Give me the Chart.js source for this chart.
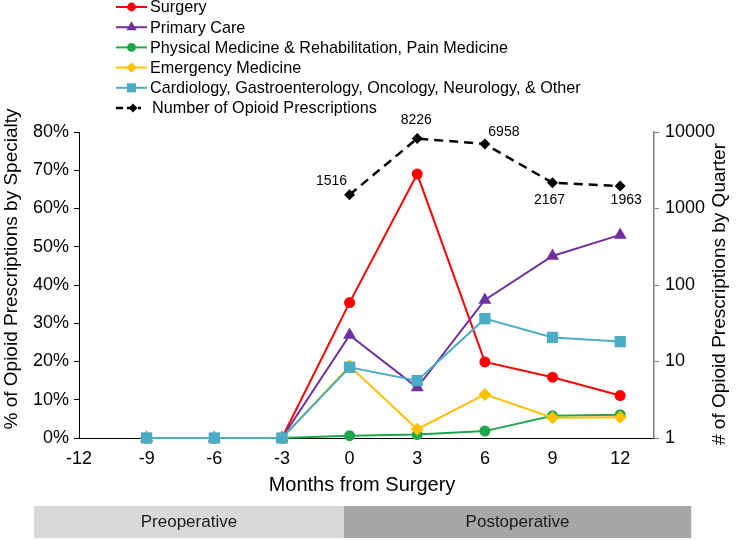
<!DOCTYPE html>
<html><head><meta charset="utf-8">
<script src="https://cdn.jsdelivr.net/npm/chart.js@4/dist/chart.umd.min.js"></script>
<style>html,body{margin:0;padding:0;background:#fff}#wrap{width:742px;height:540px}</style>
</head><body><div id="wrap"><canvas id="c" width="742" height="540"></canvas></div>
<script>
// ---- data ----
const months = [-9, -6, -3, 0, 3, 6, 9, 12];
const surgery = [0, 0, 0, 35.4, 69.0, 19.9, 15.9, 11.1];
const primaryCare = [0, 0, 0, 26.9, 13.2, 36.1, 47.6, 53.1];
const pmrPain = [0, 0, 0, 0.6, 0.9, 1.8, 5.8, 6.1];
const emergency = [0, 0, 0, 18.8, 2.3, 11.4, 5.3, 5.4];
const otherSpecialties = [0, 0, 0, 18.5, 15.0, 31.2, 26.3, 25.2];
const rxMonths = [0, 3, 6, 9, 12];
const rxCounts = [1516, 8226, 6958, 2167, 1963];
const xTickValues = [-12, -9, -6, -3, 0, 3, 6, 9, 12];
const pctTickValues = [0, 10, 20, 30, 40, 50, 60, 70, 80];
const countTickValues = [1, 10, 100, 1000, 10000];
const seriesNames = [
  'Surgery',
  'Primary Care',
  'Physical Medicine & Rehabilitation, Pain Medicine',
  'Emergency Medicine',
  'Cardiology, Gastroenterology, Oncology, Neurology, & Other',
  'Number of Opioid Prescriptions'
];
const phaseLabels = ['Preoperative', 'Postoperative'];
const phaseBounds = [-14, -0.25, 15.15];
const rxLabelPlacement = ['upper-left', 'above', 'upper-right', 'below', 'below-right'];

// ---- styles ----
const FONT = '"Liberation Sans", Arial, sans-serif';
const placementOffsets = {
  'upper-left': [-18, -14], 'above': [-1, -18], 'upper-right': [19, -12],
  'below': [-3, 17], 'below-right': [6, 14]
};
const styles = [
  {color: '#ff0000', point: 'circle', r: 5.5},
  {color: '#7030a0', point: 'triangle', r: 7.5},
  {color: '#1fa64a', point: 'circle', r: 5.5},
  {color: '#ffc000', point: 'rectRot', r: 6.5},
  {color: '#4bacc6', point: 'rect', r: 8},
  {color: '#000000', point: 'rectRot', r: 5.5}
];
const pctSeries = [surgery, primaryCare, pmrPain, emergency, otherSpecialties];

const datasets = pctSeries.map((vals, i) => ({
  label: seriesNames[i],
  data: vals.map((v, j) => ({x: months[j], y: v})),
  yAxisID: 'y',
  borderColor: styles[i].color,
  backgroundColor: styles[i].color,
  borderWidth: 2,
  pointStyle: styles[i].point,
  pointRadius: styles[i].r,
  pointHoverRadius: styles[i].r,
  pointBorderWidth: 0,
  tension: 0,
  clip: false,
  order: 5 - i
}));
datasets.push({
  label: seriesNames[5],
  data: rxCounts.map((v, j) => ({x: rxMonths[j], y: v})),
  yAxisID: 'y2',
  borderColor: '#000',
  backgroundColor: '#000',
  borderWidth: 2.5,
  borderDash: [9, 6],
  pointStyle: 'rectRot',
  pointRadius: styles[5].r,
  pointHoverRadius: styles[5].r,
  pointBorderWidth: 0,
  tension: 0,
  clip: false,
  order: 0
});

function drawMarker(ctx, style, r, x, y, color) {
  ctx.save();
  ctx.fillStyle = color;
  ctx.setLineDash([]);
  ctx.beginPath();
  if (style === 'circle') ctx.arc(x, y, r, 0, Math.PI * 2);
  else if (style === 'triangle') {
    ctx.moveTo(x, y - r); ctx.lineTo(x + r * 0.866, y + r * 0.5); ctx.lineTo(x - r * 0.866, y + r * 0.5); ctx.closePath();
  } else if (style === 'rect') {
    const s = r * Math.SQRT1_2; ctx.rect(x - s, y - s, 2 * s, 2 * s);
  } else if (style === 'rectRot') {
    ctx.moveTo(x, y - r); ctx.lineTo(x + r, y); ctx.lineTo(x, y + r); ctx.lineTo(x - r, y); ctx.closePath();
  }
  ctx.fill();
  ctx.restore();
}

const extras = {
  id: 'extras',
  afterDraw(chart) {
    const ctx = chart.ctx;
    const ca = chart.chartArea;
    const xs = chart.scales.x;
    // legend
    ctx.save();
    ctx.font = '16.2px ' + FONT;
    ctx.textBaseline = 'middle';
    ctx.textAlign = 'left';
    chart.data.datasets.forEach((ds, i) => {
      const y = 7 + i * 20.2;
      ctx.save();
      ctx.strokeStyle = ds.borderColor;
      ctx.lineWidth = i === 5 ? 2.5 : 2;
      ctx.setLineDash(i === 5 ? [7, 4] : []);
      ctx.beginPath();
      ctx.moveTo(116, y); ctx.lineTo(i === 5 ? 141 : 147, y);
      ctx.stroke();
      ctx.restore();
      drawMarker(ctx, styles[i].point, styles[i].r * 0.8, i === 5 ? 133 : 131.5, y, ds.borderColor);
      ctx.fillStyle = '#000';
      ctx.fillText(ds.label, i === 5 ? 152 : 150, y + 1);
    });
    ctx.restore();

    // data labels for prescription counts
    const meta = chart.getDatasetMeta(5);
    ctx.save();
    ctx.font = '14px ' + FONT;
    ctx.fillStyle = '#000';
    ctx.textAlign = 'center';
    ctx.textBaseline = 'middle';
    meta.data.forEach((pt, i) => {
      const off = placementOffsets[rxLabelPlacement[i]];
      ctx.fillText(String(rxCounts[i]), pt.x + off[0], pt.y + off[1]);
    });
    ctx.restore();

    // axis titles
    ctx.save();
    ctx.fillStyle = '#000';
    ctx.textAlign = 'center';
    ctx.textBaseline = 'middle';
    ctx.font = '19px ' + FONT;
    ctx.save(); ctx.translate(12, 269); ctx.rotate(-Math.PI / 2);
    ctx.fillText('% of Opioid Prescriptions by Specialty', 0, 0); ctx.restore();
    ctx.save(); ctx.translate(720, 294); ctx.rotate(-Math.PI / 2);
    ctx.fillText('# of Opioid Prescriptions by Quarter', 0, 0); ctx.restore();
    ctx.font = '20px ' + FONT;
    ctx.fillText('Months from Surgery', 362, ca.bottom + 47);
    ctx.restore();

    // phase bars
    const phaseColors = ['#d9d9d9', '#a6a6a6'];
    const top = ca.bottom + 68, h = 32;
    ctx.save();
    ctx.font = '17px ' + FONT;
    ctx.textAlign = 'center';
    ctx.textBaseline = 'middle';
    phaseLabels.forEach((lab, i) => {
      const x0 = xs.getPixelForValue(phaseBounds[i]);
      const x1 = xs.getPixelForValue(phaseBounds[i + 1]);
      ctx.fillStyle = phaseColors[i];
      ctx.fillRect(x0, top, x1 - x0, h);
      ctx.fillStyle = '#1a1a1a';
      ctx.fillText(lab, (x0 + x1) / 2, top + h / 2);
    });
    ctx.restore();
  }
};

new Chart(document.getElementById('c'), {
  type: 'line',
  data: {datasets},
  options: {
    responsive: false,
    animation: false,
    devicePixelRatio: 1,
    layout: {padding: {top: 132, left: 0, right: 0, bottom: 0}},
    plugins: {legend: {display: false}, tooltip: {enabled: false}},
    scales: {
      x: {
        type: 'linear', min: -12, max: 13.5,
        afterBuildTicks: s => { s.ticks = xTickValues.map(v => ({value: v})); },
        afterFit: s => { s.height = 102; },
        grid: {display: true, drawOnChartArea: false, drawTicks: false},
        border: {display: true, color: '#000', width: 1},
        ticks: {font: {family: FONT, size: 18}, color: '#000', padding: 10, maxRotation: 0, autoSkip: false,
          callback: v => String(v)}
      },
      y: {
        type: 'linear', position: 'left', min: 0, max: 80,
        afterBuildTicks: s => { s.ticks = pctTickValues.map(v => ({value: v})); },
        afterFit: s => { s.width = 79; },
        grid: {display: true, drawOnChartArea: false, drawTicks: true, tickLength: 5, color: '#000'},
        border: {display: true, color: '#000', width: 1},
        ticks: {font: {family: FONT, size: 18}, color: '#000', padding: 5, callback: v => v + '%'}
      },
      y2: {
        type: 'logarithmic', position: 'right', min: 1, max: 10000,
        afterBuildTicks: s => { s.ticks = countTickValues.map(v => ({value: v})); },
        afterFit: s => { s.width = 88; },
        grid: {display: true, drawOnChartArea: false, drawTicks: true, tickLength: 5, color: '#808080'},
        border: {display: true, color: '#808080', width: 1.5},
        ticks: {font: {family: FONT, size: 18}, color: '#000', padding: 6, callback: v => String(v)}
      }
    }
  },
  plugins: [extras]
});
</script>
</body></html>
